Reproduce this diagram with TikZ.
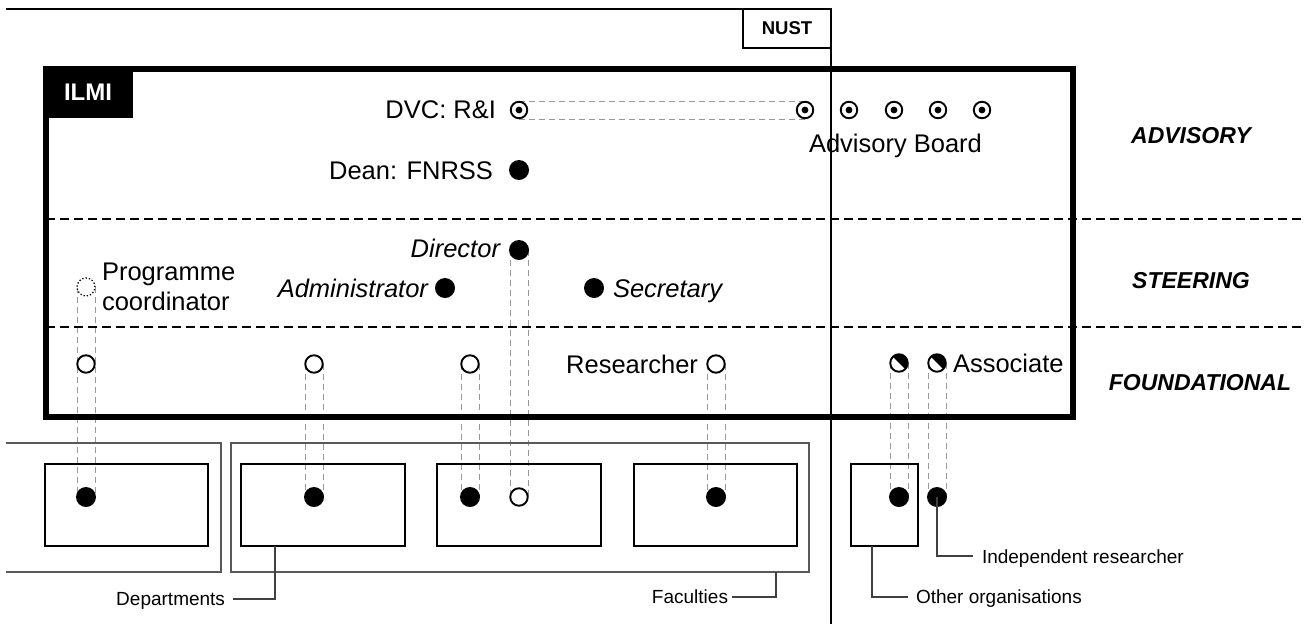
\documentclass[tikz,border=0pt]{standalone}
\usepackage{fontspec}
\setmainfont{Liberation Sans}
\pgfdeclarelayer{bg}
\pgfsetlayers{bg,main}
\newcommand\vpipe[2]{%
  \draw[pipe] ([xshift=-9pt]#1.center) -- ([xshift=-9pt]#2.center);
  \draw[pipe] ([xshift=9pt]#1.center) -- ([xshift=9pt]#2.center);}
\newcommand\hpipe[2]{%
  \draw[pipe] ([yshift=-9pt]#1.center) -- ([yshift=-9pt]#2.center);
  \draw[pipe] ([yshift=9pt]#1.center) -- ([yshift=9pt]#2.center);}
\begin{document}
\begin{tikzpicture}[x=1pt,y=-1pt,
  every node/.style={inner sep=0pt, outer sep=0pt},
  fmain/.style={font=\fontsize{25.5}{30}\selectfont},
  fital/.style={font=\fontsize{25.5}{30}\selectfont\itshape},
  flevel/.style={font=\fontsize{23}{28}\selectfont\bfseries\itshape},
  fsmall/.style={font=\fontsize{19}{23}\selectfont},
  blk/.style={circle, fill=black, minimum size=20pt},
  opn/.style={circle, draw, line width=1.9pt, fill=white, minimum size=17.5pt},
  dotc/.style={circle, draw, dotted, line width=1.3pt, fill=white, minimum size=18pt},
  advn/.style={circle, draw, line width=1.9pt, fill=white, minimum size=16.5pt,
    path picture={\fill[black] (path picture bounding box.center) circle (3.4pt);}},
  half/.style={circle, draw, line width=1.9pt, fill=white, minimum size=17.5pt,
    path picture={\fill[black, shift={(path picture bounding box.center)}]
      (135:14pt) -- (-45:14pt) -- (45:20pt) -- cycle;}},
  pipe/.style={draw=black!40, line width=0.9pt, dash pattern=on 6pt off 4pt},
  level/.style={line width=2pt, dash pattern=on 9pt off 5pt},
  leader/.style={draw=black!75, line width=1.1pt},
  frame/.style={draw=black!65, line width=1.3pt},
  inbox/.style={draw, line width=1.6pt, minimum height=82pt}
]
\useasboundingbox (0,0) rectangle (1305,624);

% level separators
\draw[level] (46,219) -- (1305,219);
\draw[level] (46,327) -- (1305,327);

% NUST frame
\draw[line width=1.8pt] (6,9) -- (831,9) -- (831,624);
\node (nust) [draw, line width=1.5pt, minimum width=88pt, minimum height=39pt, anchor=north west,
  font=\fontsize{18.5}{22}\selectfont\bfseries] at (743,9) {NUST};

% ILMI box
\node (ilmi) [draw, line width=5.5pt, minimum width=1027pt, minimum height=348pt, anchor=north west] at (46,69) {};
\node (ilmitag) [fill=black, text=white, minimum width=90pt, minimum height=52pt, anchor=north west,
  font=\fontsize{24}{28}\selectfont\bfseries] at (43,66) {ILMI};

% advisory level
\node (dvc) [advn] at (519,110) {};
\node (ab1) [advn] at (805,110) {};
\node (ab2) [advn] at (849,110) {};
\node (ab3) [advn] at (894,110) {};
\node (ab4) [advn] at (938,110) {};
\node (ab5) [advn] at (982,110) {};
\node (dean) [blk] at (519,170) {};
\node [fmain, anchor=base east] at (496,118) {DVC: R\&I};
\node [fmain, anchor=base east] at (493,179) {Dean: FNRSS};
\node [fmain, anchor=base west] at (809,152) {Advisory Board};

% steering level
\node (director) [blk] at (519,250) {};
\node (admin) [blk] at (445,288) {};
\node (secr) [blk] at (594,288) {};
\node (pc) [dotc] at (86,287) {};
\node [fital, anchor=base east] at (500,257) {Director};
\node [fital, anchor=base east] at (428,297) {Administrator};
\node [fital, anchor=base west] at (613,297) {Secretary};
\node [fmain, anchor=base west] at (102,280) {Programme};
\node [fmain, anchor=base west] at (102,310) {coordinator};

% foundational level
\node (f1) [opn] at (86,364) {};
\node (f2) [opn] at (314,364) {};
\node (f3) [opn] at (470,364) {};
\node (f4) [opn] at (716,364) {};
\node (a1) [half] at (899,363) {};
\node (a2) [half] at (937,363) {};
\node [fmain, anchor=base east] at (698,373) {Researcher};
\node [fmain, anchor=base west] at (953,372) {Associate};

% level names
\node [flevel, anchor=base] at (1191,143) {ADVISORY};
\node [flevel, anchor=base] at (1191,288) {STEERING};
\node [flevel, anchor=base] at (1200,390) {FOUNDATIONAL};

% bottom organisations
\draw[frame] (6,443) -- (221,443) -- (221,572) -- (6,572);
\node (fac) [frame, minimum width=578pt, minimum height=129pt, anchor=north west] at (231,443) {};
\node (b1) [inbox, minimum width=163pt, anchor=north west] at (45,464) {};
\node (b2) [inbox, minimum width=164pt, anchor=north west] at (241,464) {};
\node (b3) [inbox, minimum width=164pt, anchor=north west] at (437,464) {};
\node (b4) [inbox, minimum width=163pt, anchor=north west] at (634,464) {};
\node (b5) [inbox, minimum width=67pt, anchor=north west] at (851,464) {};

\node (d1) [blk] at (86,497) {};
\node (d2) [blk] at (314,497) {};
\node (d3) [blk] at (470,497) {};
\node (d4) [opn] at (519,497) {};
\node (d5) [blk] at (716,497) {};
\node (o1) [blk] at (899,497) {};
\node (o2) [blk] at (937,497) {};

% labels with leaders
\node (dep) [fsmall, anchor=base east] at (225,605) {Departments};
\node (facl) [fsmall, anchor=base east] at (728,603) {Faculties};
\node (ind) [fsmall, anchor=base west] at (982,563) {Independent researcher};
\node (oth) [fsmall, anchor=base west] at (916,603) {Other organisations};
\coordinate (depc) at (233,599);
\coordinate (facc) at (732,597);
\coordinate (indc) at (973,556);
\coordinate (othc) at (908,597);
\draw[leader] ([xshift=34pt]b2.south west) |- (depc);
\draw[leader] ([xshift=-33pt]fac.south east) |- (facc);
\draw[leader] (o2.center) |- (indc);
\draw[leader] ([xshift=21pt]b5.south west) |- (othc);

% pipes (behind)
\begin{pgfonlayer}{bg}
\hpipe{dvc}{ab1}
\vpipe{pc}{d1}
\vpipe{f2}{d2}
\vpipe{f3}{d3}
\vpipe{director}{d4}
\vpipe{f4}{d5}
\vpipe{a1}{o1}
\vpipe{a2}{o2}
\end{pgfonlayer}
\end{tikzpicture}
\end{document}
